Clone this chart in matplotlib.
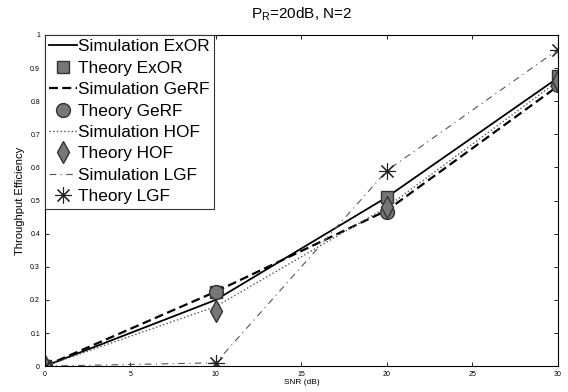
import numpy as np
import matplotlib.pyplot as plt

plt.rcParams['font.family'] = ['Liberation Sans', 'DejaVu Sans']

snr = [0, 10, 20, 30]
sim_exor = [0.0, 0.20, 0.51, 0.87]
th_exor = [0.0, 0.225, 0.51, 0.875]
sim_gerf = [0.0, 0.225, 0.47, 0.845]
th_gerf = [0.0, 0.225, 0.465, 0.85]
sim_hof = [0.0, 0.18, 0.48, 0.86]
th_hof = [0.0, 0.165, 0.48, 0.86]
sim_lgf = [0.0, 0.01, 0.59, 0.955]
th_lgf = [0.0, 0.01, 0.59, 0.955]

fig = plt.figure(figsize=(5.68, 3.92), dpi=100)
ax = fig.add_axes([0.079, 0.066, 0.903, 0.845])

ms = 10
ax.plot(snr, sim_exor, 'k-', lw=1.3, label='Simulation ExOR')
ax.plot(snr, th_exor, 's', color='#777777', mec='#333333', ms=ms - 1, ls='none', label='Theory ExOR')
ax.plot(snr, sim_gerf, 'k--', lw=1.6, dashes=(4, 2), label='Simulation GeRF')
ax.plot(snr, th_gerf, 'o', color='#777777', mec='#333333', ms=ms, ls='none', label='Theory GeRF')
ax.plot(snr, sim_hof, ':', color='#555555', lw=1.0, label='Simulation HOF')
ax.plot(snr, th_hof, 'd', color='#777777', mec='#333333', ms=ms + 1, ls='none', label='Theory HOF')
ax.plot(snr, sim_lgf, '-.', color='#555555', lw=0.8, dashes=(6, 4, 1, 4), label='Simulation LGF')
ax.plot(snr, th_lgf, marker=(8, 2, 0), color='#222222', mew=0.8, ms=12, ls='none', label='Theory LGF')

ax.set_xlim(0, 30)
ax.set_ylim(0, 1)
ax.set_xticks(range(0, 31, 5))
ax.set_yticks(np.arange(0, 1.01, 0.1))
ax.set_yticklabels(['0', '0.1', '0.2', '0.3', '0.4', '0.5', '0.6', '0.7', '0.8', '0.9', '1'])
ax.tick_params(direction='in', top=True, right=True, labelsize=5, length=3, width=0.6)
for s in ax.spines.values():
    s.set_linewidth(0.8)

ax.set_xlabel('SNR (dB)', fontsize=6, labelpad=1)
ax.set_ylabel('Throughput Efficiency', fontsize=8, labelpad=4)
ax.set_title(r'P$_\mathregular{R}$=20dB, N=2', fontsize=11, pad=12)

leg = ax.legend(loc='upper left', fontsize=12.4, borderaxespad=0, handlelength=1.6,
                handletextpad=0.1, labelspacing=0.37, borderpad=0.25, fancybox=False,
                edgecolor='#333333', framealpha=1)
leg.get_frame().set_linewidth(0.8)

fig.savefig('out.png', dpi=100)
